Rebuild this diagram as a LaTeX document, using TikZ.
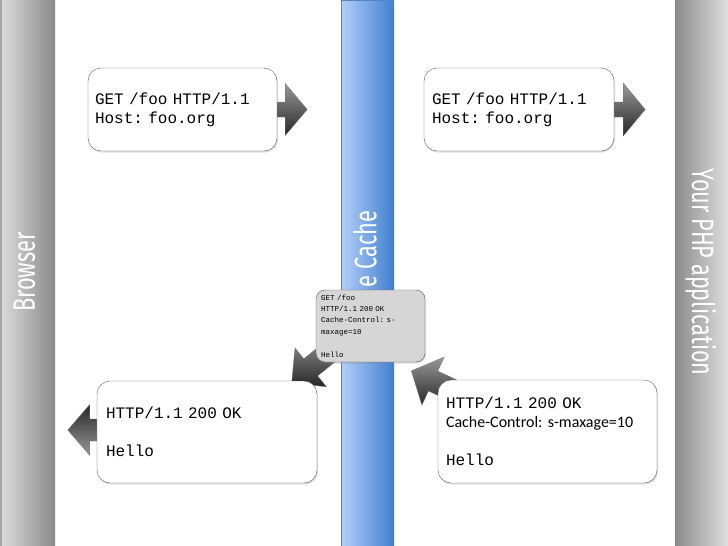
\documentclass[tikz,border=0pt]{standalone}
\usepackage{fontspec}
\setmainfont{Carlito}
\newfontfamily\monofont{Liberation Mono}
\newfontfamily\condfont[FakeStretch=0.7]{Fira Sans}
\usetikzlibrary{calc,shadows}

\newcommand\msgfont{\frenchspacing\monofont\fontsize{16}{19}\selectfont
  \fontdimen2\font=9.6pt\fontdimen3\font=0pt\fontdimen4\font=0pt\relax}
\newcommand\tinyfont{\frenchspacing\monofont\fontsize{7.5}{11.4}\selectfont
  \fontdimen2\font=4.5pt\fontdimen3\font=0pt\fontdimen4\font=0pt\relax}
\newcommand\colfont{\condfont\fontsize{31}{31}\selectfont}

\definecolor{browserlight}{HTML}{DCDCDC}
\definecolor{browserdark}{HTML}{8A8A8A}
\definecolor{cachelight}{HTML}{B2D0F8}
\definecolor{cachedark}{HTML}{427FCF}
\definecolor{cacheedge}{HTML}{5583C6}

\pgfdeclarelayer{back}
\pgfdeclarelayer{mid}
\pgfsetlayers{back,mid,main}

\begin{document}
\begin{tikzpicture}[x=1pt,y=-1pt,
    msgbox/.style={draw=black!65, fill=white, rounded corners=13pt,
        align=left, inner ysep=0pt, font=\msgfont,
        drop shadow={shadow xshift=1pt, shadow yshift=-1.5pt, opacity=0.25}},
    cachebox/.style={draw=black!65, fill=black!16, rounded corners=9pt,
        align=left, inner xsep=5pt, inner ysep=0pt, font=\tinyfont,
        drop shadow={shadow xshift=1pt, shadow yshift=-1.5pt, opacity=0.25}},
    collabel/.style={text=white, font=\colfont, inner sep=0pt},
    blockarrow/.style={top color=black!40, bottom color=black!85,
        draw=black!55, line width=0.3pt}]

  \useasboundingbox (0,0) rectangle (728,546);

  % the three columns
  \begin{pgfonlayer}{back}
    \fill[white] (0,0) rectangle (728,546);
    \shade[left color=browserlight, right color=browserdark] (0,0) rectangle (55,546);
    \draw[black!35, line width=1.5pt] (0.75,0) -- (0.75,546);
    \shade[left color=browserdark, right color=browserlight!90!white] (675,0) rectangle (728,546);
    \draw[black!50, line width=1pt] (675.5,0) -- (675.5,546);
    \shade[left color=cachelight, right color=cachedark] (341,0) rectangle (394,546);
    \draw[cacheedge, line width=1pt] (341.5,0) -- (341.5,546);
    \draw[cacheedge, line width=1pt] (341,0.5) -- (394,0.5);
  \end{pgfonlayer}

  \node[collabel, rotate=90] (browser) at (24.5,272) {Browser};
  \node[collabel, rotate=-90] (app) at (701,272) {Your PHP application};
  \node[collabel, rotate=90] (gw) at (365,249) {e Cache};

  % messages
  \node[msgbox, text width=175pt, inner xsep=7pt, minimum height=83pt]
      (req1) at (182.5,109.5) {GET /foo HTTP/1.1\\Host: foo.org};
  \node[msgbox, text width=174pt, inner xsep=8pt, minimum height=83pt]
      (req2) at (519,109.5) {GET /foo HTTP/1.1\\Host: foo.org};
  \node[cachebox, text width=99pt, minimum height=72pt]
      (cache) at (370.5,326) {GET /foo\\HTTP/1.1 200 OK\\Cache-Control: s-\\maxage=10\\~\\Hello};
  \node[msgbox, text width=202pt, inner xsep=9pt, minimum height=102pt]
      (resp1) at (207,432) {HTTP/1.1 200 OK\\~\\Hello};
  \node[msgbox, text width=203pt, inner xsep=8pt, minimum height=103pt]
      (resp2) at (547.5,431.5) {HTTP/1.1 200 OK\\{\rmfamily Cache-Control: s-maxage=10}\\~\\Hello};

  % block arrows
  \begin{scope}[shift={(req1.east)}]
    \shade[blockarrow] (0,-7.5) -- (8,-7.5) -- (8,-26) -- (30,0) -- (8,26) -- (8,7.5) -- (0,7.5) -- cycle;
  \end{scope}
  \begin{scope}[shift={(req2.east)}]
    \shade[blockarrow] (0,-7.5) -- (9,-7.5) -- (9,-26.5) -- (31,0) -- (9,26.5) -- (9,7.5) -- (0,7.5) -- cycle;
  \end{scope}
  \begin{scope}[shift={($(resp1.west)+(0,-2)$)}, rotate=180]
    \shade[blockarrow, top color=black!85, bottom color=black!40]
      (0,-11) -- (7,-11) -- (7,-25.5) -- (29,0) -- (7,25.5) -- (7,11) -- (0,11) -- cycle;
  \end{scope}
  \begin{pgfonlayer}{mid}
    \begin{scope}[shift={($(cache.south west)+(26,-20)$)}, rotate=219]
      \shade[blockarrow] (0,-11) -- (40,-11) -- (40,-25) -- (64.5,0) -- (40,25) -- (40,11) -- (0,11) -- cycle;
    \end{scope}
    \begin{scope}[shift={($(resp2.north west)+(27,16)$)}, rotate=155]
      \shade[blockarrow] (0,-11) -- (35,-11) -- (35,-26.5) -- (59,0) -- (35,26.5) -- (35,11) -- (0,11) -- cycle;
    \end{scope}
  \end{pgfonlayer}

\end{tikzpicture}
\end{document}
